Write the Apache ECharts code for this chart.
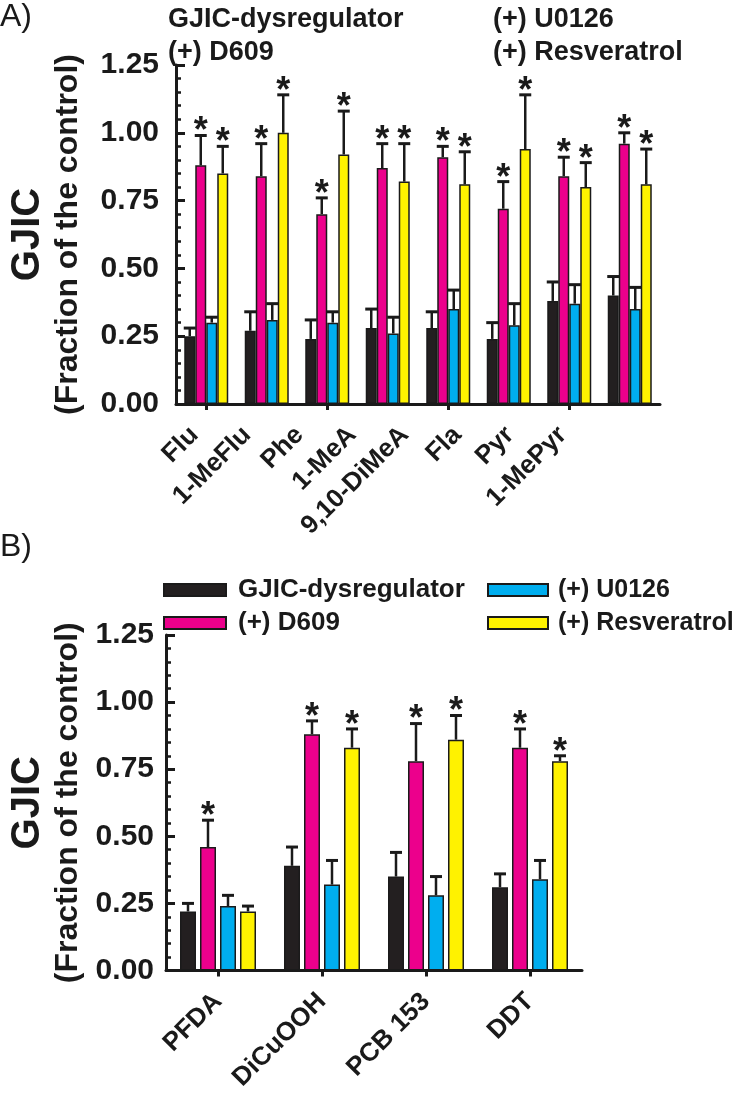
<!DOCTYPE html>
<html>
<head>
<meta charset="utf-8">
<script src="https://cdn.jsdelivr.net/npm/echarts@6/dist/echarts.min.js"></script>
<style>html,body{margin:0;padding:0;background:#fff;}#chart{width:747px;height:1096px;}</style>
</head>
<body>
<div id="chart"></div>
<script>
// ---------- DATA ----------
const seriesNames = ['GJIC-dysregulator', '(+) D609', '(+) U0126', '(+) Resveratrol'];
const yTickValues = [0, 0.25, 0.5, 0.75, 1.0, 1.25];

// Panel A
const categoriesA = ['Flu', '1-MeFlu', 'Phe', '1-MeA', '9,10-DiMeA', 'Fla', 'Pyr', '1-MePyr'];
const dysregA    = [0.25, 0.27, 0.24, 0.28, 0.28, 0.24, 0.38, 0.40];
const dysregErrA = [0.03, 0.07, 0.07, 0.07, 0.06, 0.06, 0.07, 0.07];
const d609A      = [0.88, 0.84, 0.70, 0.87, 0.91, 0.72, 0.84, 0.96];
const d609ErrA   = [0.11, 0.12, 0.06, 0.09, 0.04, 0.10, 0.07, 0.04];
const u0126A     = [0.30, 0.31, 0.30, 0.26, 0.35, 0.29, 0.37, 0.35];
const u0126ErrA  = [0.02, 0.06, 0.04, 0.06, 0.07, 0.08, 0.07, 0.08];
const resvA      = [0.85, 1.00, 0.92, 0.82, 0.81, 0.94, 0.80, 0.81];
const resvErrA   = [0.10, 0.14, 0.16, 0.14, 0.12, 0.20, 0.09, 0.13];
const starDysregA = [0, 0, 0, 0, 0, 0, 0, 0];
const starD609A   = [1, 1, 1, 1, 1, 1, 1, 1];
const starU0126A  = [0, 0, 0, 0, 0, 0, 0, 0];
const starResvA   = [1, 1, 1, 1, 1, 1, 1, 1];

// Panel B
const categoriesB = ['PFDA', 'DiCuOOH', 'PCB 153', 'DDT'];
const dysregB    = [0.22, 0.39, 0.35, 0.31];
const dysregErrB = [0.03, 0.07, 0.09, 0.05];
const d609B      = [0.46, 0.88, 0.78, 0.83];
const d609ErrB   = [0.10, 0.05, 0.14, 0.07];
const u0126B     = [0.24, 0.32, 0.28, 0.34];
const u0126ErrB  = [0.04, 0.09, 0.07, 0.07];
const resvB      = [0.22, 0.83, 0.86, 0.78];
const resvErrB   = [0.02, 0.07, 0.09, 0.02];
const starDysregB = [0, 0, 0, 0];
const starD609B   = [1, 1, 1, 1];
const starU0126B  = [0, 0, 0, 0];
const starResvB   = [0, 1, 1, 1];

// ---------- STYLE ----------
const FONT = "'Liberation Sans', Arial, Helvetica, sans-serif";
const INK = '#1a1a1a';
const colors = ['#231f20', '#ec008c', '#00aeef', '#fff200'];

const chart = echarts.init(document.getElementById('chart'), null, {renderer: 'canvas'});

function yAxisCfg(gridIndex, nameGap, labelMargin) {
  return {
    type: 'value', gridIndex: gridIndex, min: 0, max: 1.25, interval: 0.25,
    axisLine: {show: true, lineStyle: {color: INK, width: 3}},
    axisTick: {show: true, inside: true, length: 9, lineStyle: {color: INK, width: 3}},
    minorTick: {show: true, splitNumber: 5, length: 5, lineStyle: {color: INK, width: 2.5}},
    splitLine: {show: false},
    axisLabel: {fontSize: 30, fontWeight: 'bold', color: INK, fontFamily: FONT, margin: labelMargin,
      formatter: v => yTickValues.indexOf(v) >= 0 ? v.toFixed(2) : ''},
    name: '{a|GJIC}\n{b|(Fraction of the control)}',
    nameLocation: 'middle', nameRotate: 90, nameGap: nameGap,
    nameTextStyle: {color: INK, fontFamily: FONT, rich: {
      a: {fontSize: 40, fontWeight: 'bold', lineHeight: 44, color: INK, fontFamily: FONT},
      b: {fontSize: 32, fontWeight: 'bold', lineHeight: 36, color: INK, fontFamily: FONT}
    }}
  };
}

function barSeries(name, values, color, xi, yi, bw, gap) {
  return {
    type: 'bar', name: name, xAxisIndex: xi, yAxisIndex: yi,
    data: values, barWidth: bw, barGap: gap,
    itemStyle: {color: color, borderColor: INK, borderWidth: 1.5},
    z: 2
  };
}

function errSeries(values, errs, stars, xi, yi, offset, capW) {
  return {
    type: 'custom', xAxisIndex: xi, yAxisIndex: yi, z: 3,
    data: values.map((v, i) => [i, v, errs[i], stars[i]]),
    encode: {x: 0, y: 1},
    renderItem: function (params, api) {
      const ci = api.value(0), v = api.value(1), e = api.value(2), s = api.value(3);
      const base = api.coord([ci, v]);
      const top = api.coord([ci, v + e]);
      const x = base[0] + offset;
      const children = [
        {type: 'line', shape: {x1: x, y1: base[1], x2: x, y2: top[1]}, style: {stroke: INK, lineWidth: 2.5}},
        {type: 'line', shape: {x1: x - capW / 2, y1: top[1], x2: x + capW / 2, y2: top[1]}, style: {stroke: INK, lineWidth: 3}}
      ];
      if (s) {
        children.push({type: 'text', style: {text: '*', x: x, y: top[1] - 3, align: 'center', verticalAlign: 'middle',
          font: 'bold 36px ' + FONT, fill: INK}});
      }
      return {type: 'group', children: children};
    }
  };
}

const bwA = 11, stepA = 11;
const bwB = 16, stepB = 20;
const offA = [-1.5, -0.5, 0.5, 1.5].map(k => k * stepA);
const offB = [-1.5, -0.5, 0.5, 1.5].map(k => k * stepB);

const option = {
  backgroundColor: '#fff',
  animation: false,
  textStyle: {fontFamily: FONT},
  grid: [
    {left: 172, top: 65, width: 488, height: 339},      // panel A plot
    {left: 168, top: 65, width: 420.8, height: 339},    // panel A label row
    {left: 162, top: 635, width: 420, height: 335.5}    // panel B plot
  ],
  xAxis: [
    {type: 'category', gridIndex: 0, data: categoriesA,
      axisLine: {show: true, lineStyle: {color: INK, width: 3}},
      axisTick: {show: true, alignWithLabel: true, length: 6, lineStyle: {color: INK, width: 3}},
      axisLabel: {show: false}},
    {type: 'category', gridIndex: 1, data: categoriesA,
      axisLine: {show: false}, axisTick: {show: false},
      axisLabel: {show: true, rotate: 45, interval: 0, margin: 27, fontSize: 26, fontWeight: 'bold', color: INK, fontFamily: FONT}},
    {type: 'category', gridIndex: 2, data: categoriesB,
      axisLine: {show: true, lineStyle: {color: INK, width: 3}},
      axisTick: {show: true, alignWithLabel: true, length: 6, lineStyle: {color: INK, width: 3}},
      axisLabel: {show: true, rotate: 45, interval: 0, margin: 27, fontSize: 26, fontWeight: 'bold', color: INK, fontFamily: FONT}}
  ],
  yAxis: [
    yAxisCfg(0, 90, 17),
    {type: 'value', gridIndex: 1, min: 0, max: 1.25, show: false},
    yAxisCfg(2, 80, 12)
  ],
  legend: [
    {left: 157, top: 0, orient: 'vertical', itemGap: 3, itemWidth: 1, itemHeight: 1, icon: 'rect',
      data: [seriesNames[0], seriesNames[1]],
      itemStyle: {color: 'rgba(0,0,0,0)', borderWidth: 0},
      textStyle: {fontSize: 27, fontWeight: 'bold', color: INK, fontFamily: FONT, lineHeight: 30}},
    {left: 482, top: 0, orient: 'vertical', itemGap: 3, itemWidth: 1, itemHeight: 1, icon: 'rect',
      data: [seriesNames[2], seriesNames[3]],
      itemStyle: {color: 'rgba(0,0,0,0)', borderWidth: 0},
      textStyle: {fontSize: 27, fontWeight: 'bold', color: INK, fontFamily: FONT, lineHeight: 30}},
    {left: 158, top: 570, orient: 'vertical', itemGap: 3, itemWidth: 62, itemHeight: 12, icon: 'rect',
      data: [seriesNames[0], seriesNames[1]],
      itemStyle: {borderColor: INK, borderWidth: 2},
      textStyle: {fontSize: 26, fontWeight: 'bold', color: INK, fontFamily: FONT, lineHeight: 30, padding: [0, 0, 0, 7]}},
    {left: 482, top: 570, orient: 'vertical', itemGap: 3, itemWidth: 60, itemHeight: 12, icon: 'rect',
      data: [seriesNames[2], seriesNames[3]],
      itemStyle: {borderColor: INK, borderWidth: 2},
      textStyle: {fontSize: 25, fontWeight: 'bold', color: INK, fontFamily: FONT, lineHeight: 30, padding: [0, 0, 0, 5]}}
  ],
  graphic: [
    {type: 'text', left: 0, top: 1, style: {text: 'A)', font: '32px ' + FONT, fill: INK}},
    {type: 'text', left: 0, top: 531, style: {text: 'B)', font: '32px ' + FONT, fill: INK}}
  ],
  series: [
    barSeries(seriesNames[0], dysregA, colors[0], 0, 0, bwA, '0%'),
    barSeries(seriesNames[1], d609A, colors[1], 0, 0, bwA, '0%'),
    barSeries(seriesNames[2], u0126A, colors[2], 0, 0, bwA, '0%'),
    barSeries(seriesNames[3], resvA, colors[3], 0, 0, bwA, '0%'),
    errSeries(dysregA, dysregErrA, starDysregA, 0, 0, offA[0], 12),
    errSeries(d609A, d609ErrA, starD609A, 0, 0, offA[1], 12),
    errSeries(u0126A, u0126ErrA, starU0126A, 0, 0, offA[2], 12),
    errSeries(resvA, resvErrA, starResvA, 0, 0, offA[3], 12),
    barSeries(seriesNames[0], dysregB, colors[0], 2, 2, bwB, '25%'),
    barSeries(seriesNames[1], d609B, colors[1], 2, 2, bwB, '25%'),
    barSeries(seriesNames[2], u0126B, colors[2], 2, 2, bwB, '25%'),
    barSeries(seriesNames[3], resvB, colors[3], 2, 2, bwB, '25%'),
    errSeries(dysregB, dysregErrB, starDysregB, 2, 2, offB[0], 12),
    errSeries(d609B, d609ErrB, starD609B, 2, 2, offB[1], 12),
    errSeries(u0126B, u0126ErrB, starU0126B, 2, 2, offB[2], 12),
    errSeries(resvB, resvErrB, starResvB, 2, 2, offB[3], 12)
  ]
};
chart.setOption(option);
</script>
</body>
</html>
